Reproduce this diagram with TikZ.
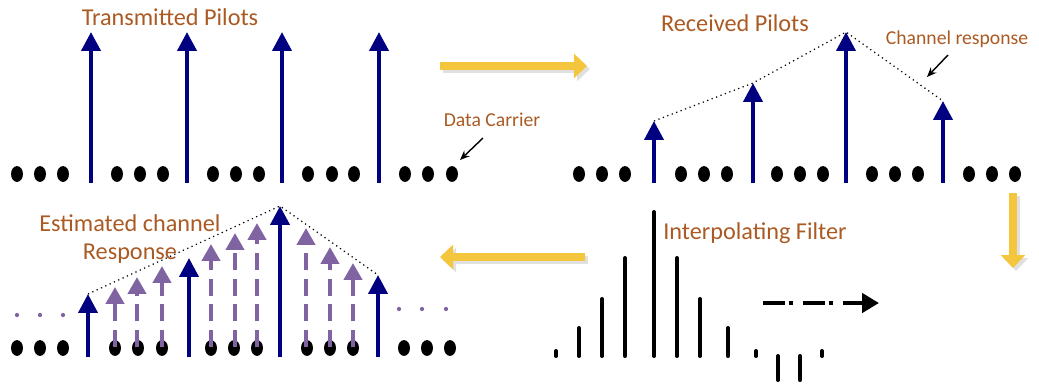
\documentclass[tikz,border=0pt]{standalone}
\usepackage{fontspec}
\setmainfont{Carlito}
\usetikzlibrary{arrows.meta}
\definecolor{pilotblue}{RGB}{0,0,128}
\definecolor{txtbrown}{RGB}{170,90,34}
\definecolor{estpurple}{RGB}{128,100,162}
\definecolor{flowyellow}{RGB}{244,198,62}

\begin{document}
\begin{tikzpicture}[x=0.02cm, y=-0.02cm,
  pilot/.style={-{Triangle[width=10.8pt,length=10.8pt]}, pilotblue, line width=2.3pt},
  estim/.style={-{Triangle[width=10.2pt,length=9.6pt]}, estpurple, line width=2.3pt, dash pattern=on 9.6pt off 5pt},
  response/.style={dotted, line width=0.7pt},
  flow/.style={-{Triangle[width=13.6pt,length=7.4pt]}, line width=4pt},
  headtext/.style={txtbrown, font=\fontsize{13.8}{15.9}\selectfont, inner sep=0pt},
  notetext/.style={txtbrown, font=\fontsize{11.2}{13.4}\selectfont, inner sep=0pt},
  pointer/.style={-{Stealth[length=5.5pt,width=4.5pt]}, line width=0.8pt}]
  \useasboundingbox (0,0) rectangle (1039,387);

  % transmitted pilots
  \foreach \x in {17,40,63,117,140,163,213,236,259,308,332,354,405,428,452}
    \fill (\x,174) ellipse [x radius=3.4pt, y radius=4.5pt];
  \foreach \x in {91,187,282,379}
    \draw[pilot] (\x,183) -- (\x,32);
  \node[headtext, anchor=base] (txp) at (170,25) {Transmitted Pilots};
  \node[notetext, anchor=base] (dcr) at (492,126) {Data Carrier};
  \coordinate (dcA) at (483,138);
  \coordinate (dcB) at (460,160);
  \draw[pointer] (dcA) -- (dcB);

  % received pilots
  \foreach \x in {579,602,625,681,704,727,777,800,823,872,895,918,969,992,1015}
    \fill (\x,174) ellipse [x radius=3.4pt, y radius=4.5pt];
  \foreach \x/\t [count=\i] in {654/121,753/83,846/32,943/101} {
    \draw[pilot] (\x,183) -- (\x,\t);
    \coordinate (rp\i) at (\x,\t);
  }
  \draw[response] (rp1) -- (rp2) -- (rp3) -- (rp4);
  \node[headtext, anchor=base] (rxp) at (735,31) {Received Pilots};
  \node[notetext, anchor=base] (chr) at (957,44) {Channel response};
  \coordinate (chA) at (948,55);
  \coordinate (chB) at (927,77);
  \draw[pointer] (chA) -- (chB);

  % flow arrows
  \foreach \a/\b in {{(440,66)}/{(587,66)},{(1013,193)}/{(1013,268)},{(585,257)}/{(440,257)}} {
    \draw[flow, black!12, shift={(3,3)}] \a -- \b;
    \draw[flow, flowyellow] \a -- \b;
  }

  % interpolating filter
  \foreach \x/\t/\b in {556/349/358,579/326/358,602/297/358,625/256/358,654/210/358,677/256/358,
                        700/297/358,728/326/358,756/349/358,778/354/382,800/354/382,822/349/358}
    \draw[line width=2.3pt, line cap=round] (\x,{\t+2}) -- (\x,{\b-2});
  \node[headtext, anchor=base] (ipf) at (755,239) {Interpolating Filter};
  \coordinate (fA) at (763,303);
  \coordinate (fB) at (879,303);
  \draw[-{Triangle[width=10.8pt,length=9.6pt]}, line width=2.8pt,
        dash pattern=on 12.5pt off 2.5pt on 2pt off 5.7pt] (fA) -- (fB);

  % estimated channel response
  \foreach \x in {17,40,63,115,138,162,211,234,257,307,330,353,404,427,450}
    \fill (\x,348) ellipse [x radius=3.4pt, y radius=4.5pt];
  \foreach \x in {17,40,63}
    \fill[estpurple] (\x,315) circle [radius=1.2pt];
  \foreach \x in {399,422,446}
    \fill[estpurple] (\x,309) circle [radius=1.2pt];
  \foreach \x/\t in {115/287,137/277,162/266,211/244,235/233,257/223,306/228,330/247,353/263}
    \draw[estim] (\x,347) -- (\x,\t);
  \foreach \x/\t [count=\i] in {88/294,189/258,280/206,378/275} {
    \draw[pilot] (\x,357) -- (\x,\t);
    \coordinate (ep\i) at (\x,\t);
  }
  \draw[response] (ep1) -- (ep3) -- (ep4);
  \node[headtext, align=center, anchor=north] (ecr) at (130,214) {Estimated channel\\Response};
\end{tikzpicture}
\end{document}
